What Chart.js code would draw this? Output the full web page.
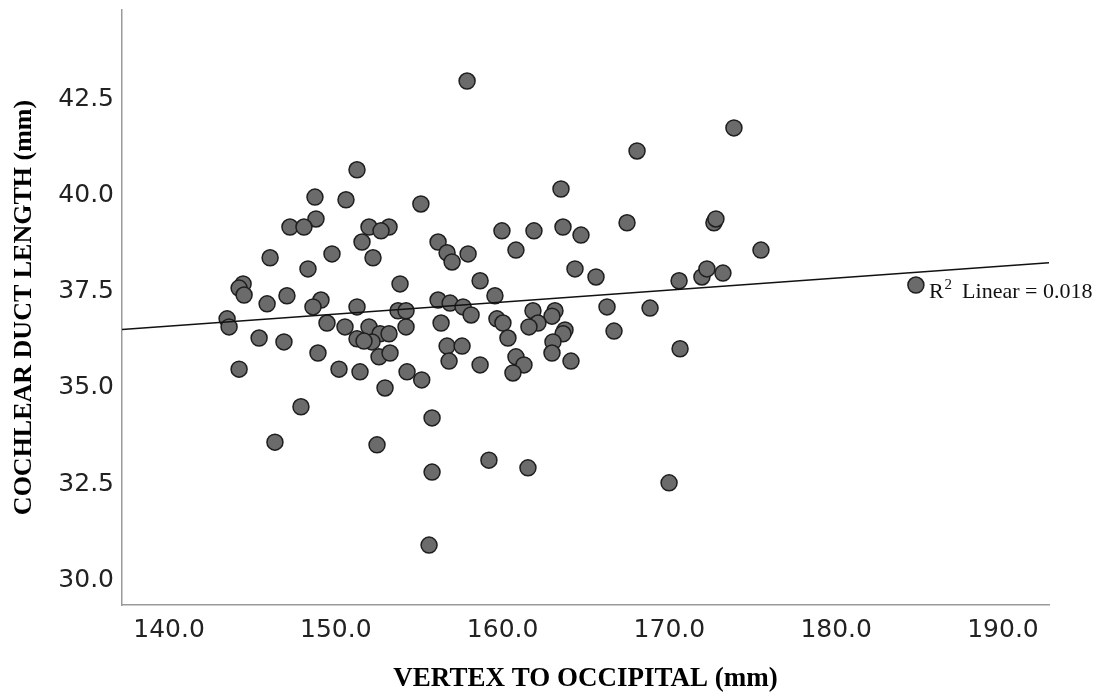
<!DOCTYPE html>
<html lang="en">
<head>
<meta charset="UTF-8" />
<title>Cochlear duct length vs vertex to occipital</title>
<style>
  html, body { margin: 0; padding: 0; background: #fff; }
  #wrap { width: 1104px; height: 693px; }
</style>
</head>
<body>
<div id="wrap"><canvas id="chart" width="1104" height="693"></canvas></div>
<script src="https://cdn.jsdelivr.net/npm/chart.js"></script>
<script>
  // values (mm)
  const vertexToOccipital = [
    151.27, 148.75, 150.61, 155.10, 148.81, 147.25, 148.09, 151.99, 153.19, 152.71,
    151.57, 146.06, 149.77, 152.23, 148.33, 153.85, 144.44, 144.20, 144.50, 145.88,
    147.07, 149.11, 148.63, 151.27, 153.73, 154.21, 143.48, 143.60, 149.47, 150.55,
    151.99, 154.21, 145.40, 146.89, 151.27, 152.65, 153.19, 152.17, 151.69, 152.59,
    153.25, 148.93, 144.20, 150.19, 151.45, 154.27, 155.15, 152.95, 147.91, 146.35,
    152.47,
    163.50, 159.96, 161.88, 163.62, 164.70, 167.46, 156.13, 156.67, 156.97, 157.93,
    160.80, 164.34, 165.60, 158.65, 159.54, 156.13, 156.85, 157.63, 158.11, 156.31,
    159.66, 160.02, 161.82, 163.14, 162.96, 162.12, 161.58, 166.26, 166.68, 160.32,
    163.74, 163.62, 163.02, 162.96, 156.67, 157.57, 156.79, 158.65, 160.80, 161.28,
    160.62, 164.10,
    173.87, 168.06, 172.67, 172.79, 175.49, 170.58, 171.95, 172.25, 173.21, 168.84,
    170.64,
    157.87, 155.77, 155.77, 155.59, 159.18, 161.52, 169.98, 184.78
  ];
  const cochlearDuctLength = [
    40.68, 39.97, 39.90, 39.79, 39.40, 39.19, 39.19, 39.19, 39.19, 39.09,
    38.80, 38.39, 38.49, 38.39, 38.10, 37.71, 37.71, 37.60, 37.42, 37.19,
    37.40, 37.29, 37.11, 37.11, 37.01, 37.01, 36.80, 36.59, 36.69, 36.59,
    36.59, 36.59, 36.30, 36.20, 36.28, 36.41, 36.41, 36.20, 36.22, 35.81,
    35.91, 35.91, 35.49, 35.49, 35.42, 35.42, 35.21, 35.00, 34.51, 33.59,
    33.52,
    40.18, 39.09, 39.09, 39.19, 38.98, 39.30, 38.80, 38.52, 38.28, 38.49,
    38.59, 38.10, 37.89, 37.79, 37.40, 37.29, 37.21, 37.11, 36.90, 36.69,
    36.80, 36.69, 37.01, 37.01, 36.87, 36.69, 36.59, 37.11, 36.48, 36.30,
    36.51, 36.41, 36.20, 35.91, 36.09, 36.09, 35.70, 35.60, 35.81, 35.60,
    35.39, 35.70,
    41.77, 41.17, 39.30, 39.40, 38.59, 37.79, 37.89, 38.10, 37.99, 37.08,
    36.02,
    42.99, 34.22, 32.81, 30.91, 33.12, 32.92, 32.53, 37.68
  ];

  // linear fit line as drawn across the plot
  const fitX = [137.18, 192.76];
  const fitY = [36.52, 38.26];
  const fitLabel = 'Linear = 0.018';

  const xTicks = [140, 150, 160, 170, 180, 190];
  const yTicks = [30, 32.5, 35, 37.5, 40, 42.5];
  const xRange = [137.18, 192.76];
  const yRange = [29.35, 44.84];

  const points = vertexToOccipital.map((v, i) => ({ x: v, y: cochlearDuctLength[i] }));
  const fitPoints = fitX.map((v, i) => ({ x: v, y: fitY[i] }));

  // "R² Linear = 0.018" next to the right-most point
  const r2Label = {
    id: 'r2Label',
    afterDatasetsDraw(chart) {
      const { ctx, scales: { x, y } } = chart;
      let k = 0;
      vertexToOccipital.forEach((v, i) => { if (v > vertexToOccipital[k]) k = i; });
      const px = x.getPixelForValue(vertexToOccipital[k]) + 13;
      const py = y.getPixelForValue(cochlearDuctLength[k]) + 13;
      ctx.save();
      ctx.fillStyle = '#111';
      ctx.textBaseline = 'alphabetic';
      ctx.textAlign = 'left';
      ctx.font = '22px "Liberation Serif", serif';
      ctx.fillText('R', px, py);
      let cx = px + ctx.measureText('R').width + 1;
      ctx.font = '15px "Liberation Serif", serif';
      ctx.fillText('2', cx, py - 9);
      cx += ctx.measureText('2').width + 10;
      ctx.font = '22px "Liberation Serif", serif';
      ctx.fillText(fitLabel, cx, py);
      ctx.restore();
    }
  };

  new Chart(document.getElementById('chart'), {
    type: 'scatter',
    data: {
      datasets: [
        {
          type: 'line',
          data: fitPoints,
          borderColor: '#111',
          borderWidth: 1.5,
          pointRadius: 0,
          fill: false,
          order: 0
        },
        {
          data: points,
          backgroundColor: '#6b6b6b',
          borderColor: '#1e1e1e',
          borderWidth: 1.5,
          pointRadius: 8,
          order: 1
        }
      ]
    },
    options: {
      responsive: false,
      animation: false,
      layout: { padding: { left: 0, top: 10, right: 55, bottom: 0 } },
      plugins: {
        legend: { display: false },
        tooltip: { enabled: false }
      },
      scales: {
        x: {
          type: 'linear',
          min: xRange[0],
          max: xRange[1],
          afterBuildTicks: s => { s.ticks = xTicks.map(v => ({ value: v })); },
          afterFit: s => { s.height = 88; s.paddingLeft = 0; s.paddingRight = 0; },
          grid: { display: false, drawTicks: false },
          border: { display: true, color: '#9a9a9a', width: 1.5 },
          ticks: {
            padding: 10,
            color: '#222',
            font: { family: '"DejaVu Sans", sans-serif', size: 25 },
            callback: v => v.toFixed(1),
            maxRotation: 0
          },
          title: {
            display: true,
            text: 'VERTEX TO OCCIPITAL (mm)',
            color: '#000',
            font: { family: '"Liberation Serif", serif', size: 27, weight: 'bold', lineHeight: 1 },
            padding: { top: 0, bottom: 0 }
          }
        },
        y: {
          type: 'linear',
          min: yRange[0],
          max: yRange[1],
          afterBuildTicks: s => { s.ticks = yTicks.map(v => ({ value: v })); },
          afterFit: s => { s.width = 122; s.paddingTop = 0; s.paddingBottom = 0; },
          grid: { display: false, drawTicks: false },
          border: { display: true, color: '#9a9a9a', width: 1.5 },
          ticks: {
            padding: 8,
            color: '#222',
            font: { family: '"DejaVu Sans", sans-serif', size: 25 },
            callback: v => v.toFixed(1)
          },
          title: {
            display: true,
            text: 'COCHLEAR DUCT LENGTH (mm)',
            color: '#000',
            font: { family: '"Liberation Serif", serif', size: 26, weight: 'bold', lineHeight: 1 },
            padding: { top: 11, bottom: 0 }
          }
        }
      }
    },
    plugins: [r2Label]
  });
</script>
</body>
</html>
